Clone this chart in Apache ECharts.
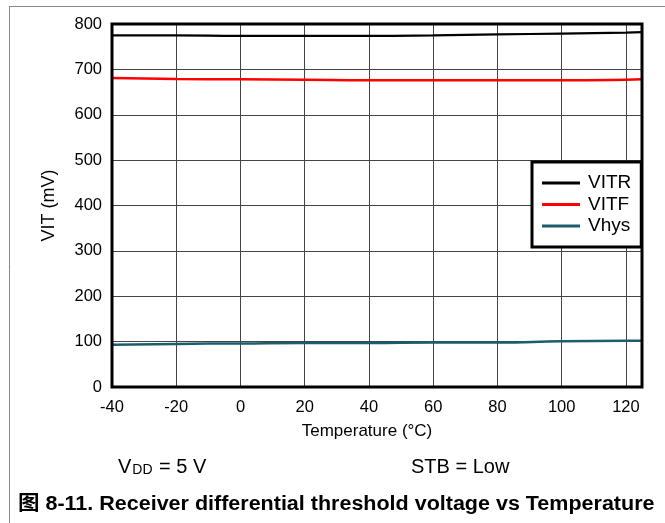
<!DOCTYPE html>
<html>
<head>
<meta charset="utf-8">
<script src="https://cdn.jsdelivr.net/npm/echarts@6/dist/echarts.min.js"></script>
<style>
  html, body { margin: 0; padding: 0; background: #fff; }
  #chart { width: 665px; height: 523px; }
</style>
</head>
<body>
<div id="chart"></div>
<script>
// temperature points (°C)
var temps = [-40, -20, 0, 20, 40, 60, 80, 100, 120, 125];
// threshold voltages (mV)
var vitr = [775, 775, 774, 774, 774, 775, 777, 779, 781, 782];
var vitf = [681, 679, 678, 677, 676, 676, 676, 676, 677, 678];
var vhys = [93, 95, 96, 97, 97, 98, 98, 101, 102, 102];
var seriesNames = ["VITR", "VITF", "Vhys"];
var seriesColors = ["#000000", "#ff0000", "#1b5d6d"];

function pairs(ys) {
  return temps.map(function (t, i) { return [t, ys[i]]; });
}

var myChart = echarts.init(document.getElementById("chart"));
var font = "'Liberation Sans', Arial, sans-serif";
var option = {
  animation: false,
  textStyle: { fontFamily: font },
  grid: {
    left: 112,
    top: 24,
    width: 530,
    height: 363,
    show: true,
    borderColor: "#000",
    borderWidth: 3,
    z: 5
  },
  legend: {
    orient: "vertical",
    left: 532,
    top: 162,
    padding: [11, 10, 11, 10],
    itemGap: 1.5,
    itemWidth: 38,
    itemHeight: 3,
    icon: "rect",
    backgroundColor: "#fff",
    borderColor: "#000",
    borderWidth: 3,
    textStyle: { fontFamily: font, fontSize: 19, lineHeight: 20, color: "#000", padding: [0, 0, 0, 3] },
    data: seriesNames
  },
  xAxis: {
    type: "value",
    min: -40,
    max: 125,
    interval: 20,
    name: "Temperature (°C)",
    nameLocation: "middle",
    nameGap: 36,
    nameTextStyle: { fontFamily: font, fontSize: 17, color: "#000", padding: [0, 20, 0, 0] },
    axisLine: { show: false },
    axisTick: { show: false },
    axisLabel: {
      margin: 12,
      fontFamily: font,
      fontSize: 16.5,
      color: "#000",
      formatter: function (v) { return v === 125 ? "" : v; }
    },
    splitLine: { show: true, lineStyle: { color: "#444", width: 1 } }
  },
  yAxis: {
    type: "value",
    min: 0,
    max: 800,
    interval: 100,
    name: "VIT (mV)",
    nameLocation: "middle",
    nameGap: 54,
    nameTextStyle: { fontFamily: font, fontSize: 18, color: "#000" },
    axisLine: { show: false },
    axisTick: { show: false },
    axisLabel: { margin: 10, fontFamily: font, fontSize: 16.5, color: "#000" },
    splitLine: { show: true, lineStyle: { color: "#444", width: 1 } }
  },
  series: [
    {
      name: seriesNames[0],
      type: "line",
      smooth: true,
      symbol: "none",
      z: 3,
      lineStyle: { color: seriesColors[0], width: 2.2 },
      itemStyle: { color: seriesColors[0] },
      data: pairs(vitr)
    },
    {
      name: seriesNames[1],
      type: "line",
      smooth: true,
      symbol: "none",
      z: 3,
      lineStyle: { color: seriesColors[1], width: 2.5 },
      itemStyle: { color: seriesColors[1] },
      data: pairs(vitf)
    },
    {
      name: seriesNames[2],
      type: "line",
      smooth: true,
      symbol: "none",
      z: 3,
      lineStyle: { color: seriesColors[2], width: 2.5 },
      itemStyle: { color: seriesColors[2] },
      data: pairs(vhys)
    }
  ],
  graphic: [
    { type: "line", shape: { x1: 9, y1: 6.5, x2: 665, y2: 6.5 }, style: { stroke: "#888", lineWidth: 1 } },
    { type: "line", shape: { x1: 9.5, y1: 6, x2: 9.5, y2: 523 }, style: { stroke: "#888", lineWidth: 1 } },
    {
      type: "text",
      left: 118,
      top: 457,
      style: {
        text: "{v|V}{s|DD}{v| = 5 V}",
        rich: {
          v: { fontFamily: font, fontSize: 20, fill: "#000", verticalAlign: "bottom", lineHeight: 24 },
          s: { fontFamily: font, fontSize: 14, fill: "#000", verticalAlign: "bottom", lineHeight: 18, padding: [0, 1, 0, 1] }
        }
      }
    },
    {
      type: "text",
      left: 411,
      top: 457,
      style: { text: "STB = Low", fontFamily: font, fontSize: 20, fill: "#000" }
    },
    {
      type: "text",
      x: 18,
      y: 504,
      scaleX: 1.075,
      style: {
        text: "图 8-11. Receiver differential threshold voltage vs Temperature",
        fontFamily: "'Liberation Sans', 'Noto Sans CJK SC', Arial, sans-serif",
        fontWeight: "bold",
        fontSize: 20,
        fill: "#000",
        verticalAlign: "middle"
      }
    }
  ]
};
myChart.setOption(option);
</script>
</body>
</html>
